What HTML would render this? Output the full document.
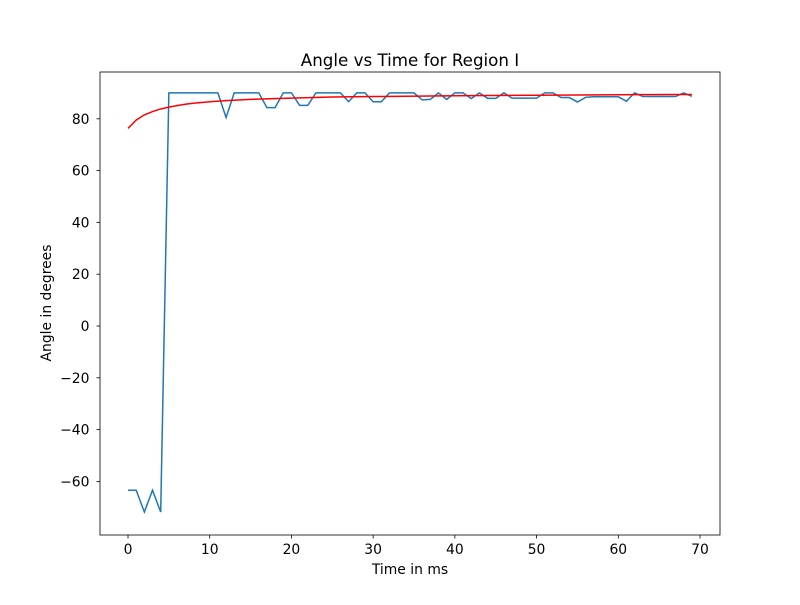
<!DOCTYPE html>
<html><head><meta charset="utf-8"><style>body{margin:0;background:#fff}svg text{font-family:"DejaVu Sans",sans-serif}</style></head>
<body>
<svg id="chart" width="800" height="600" xmlns="http://www.w3.org/2000/svg">
<rect width="800" height="600" fill="#fff"/>
<g id="plot"></g>
<text x="410" y="66" font-size="16.7" text-anchor="middle">Angle vs Time for Region I</text>
<text x="410" y="574" font-size="13.9" text-anchor="middle">Time in ms</text>
<text x="51" y="303" font-size="13.9" text-anchor="middle" transform="rotate(-90 51 303)">Angle in degrees</text>
</svg>
<script>
const angle=[-63.4,-63.4,-71.8,-63.4,-71.8,90,90,90,90,90,90,90,80.5,90,90,90,90,84.3,84.3,90,90,85.2,85.2,90,90,90,90,86.6,90,90,86.6,86.6,90,90,90,90,87.3,87.5,90,87.5,90,90,87.8,90,87.9,87.9,90,88,88,88,88,90,90,88.2,88.2,86.5,88.3,88.5,88.5,88.5,88.5,86.8,90,88.6,88.6,88.6,88.6,88.6,90,88.7];
const fitX=[0,1,2,3,4,5,6,7,8,10,12,15,20,25,30,40,50,60,69];
const fitY=[76.3,79.5,81.5,82.8,83.8,84.5,85.1,85.6,86.0,86.6,87.0,87.5,88.0,88.4,88.6,88.9,89.1,89.3,89.4];
const xTicks=[0,10,20,30,40,50,60,70];
const yTicks=[-60,-40,-20,0,20,40,60,80];
const L=100,R=720,T=72,B=535;
const sx=v=>128+v*(572/70), sy=v=>326-v*2.59;
const NS="http://www.w3.org/2000/svg", g=document.getElementById('plot');
function mk(t,a){const e=document.createElementNS(NS,t);for(const k in a)e.setAttribute(k,a[k]);g.appendChild(e);return e;}
xTicks.forEach(v=>{const x=sx(v);
 const l=mk('line',{x1:x,x2:x,y1:B,y2:B+3.5,stroke:'#000','stroke-width':0.8});
 
 
 const t=mk('text',{x:x,y:B+19,'font-size':13.9,'text-anchor':'middle'});t.textContent=v;
 
 });
yTicks.forEach(v=>{const y=sy(v);
 const l=mk('line',{x1:L-3.5,x2:L,y1:y,y2:y,stroke:'#000','stroke-width':0.8});
 
 
 const t=mk('text',{x:L-10.5,y:y+5,'font-size':13.9,'text-anchor':'end'});t.textContent=(v<0?'\u2212'+(-v):v);
 
 });
const p1=mk('polyline',{points:angle.map((v,i)=>sx(i)+','+sy(v)).join(' '),fill:'none',stroke:'#1f77b4','stroke-width':1.5});


const p2=mk('polyline',{points:fitX.map((v,i)=>sx(v)+','+sy(fitY[i])).join(' '),fill:'none',stroke:'red','stroke-width':1.5});


const fr=mk('rect',{x:L,y:T,width:R-L,height:B-T,fill:'none',stroke:'#000','stroke-width':0.8});


</script>
</body></html>
